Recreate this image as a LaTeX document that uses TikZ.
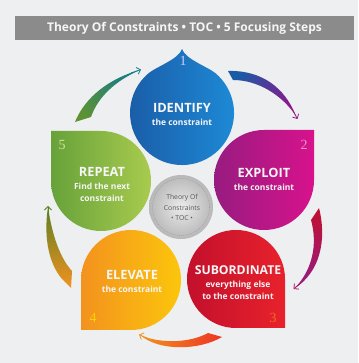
\documentclass[tikz,border=0pt]{standalone}
\usepackage{fontspec}
\setmainfont{Open Sans}
\usetikzlibrary{arrows.meta}
\definecolor{bgc}{HTML}{EDEFF1}
\definecolor{barc}{HTML}{8B8B8B}
\definecolor{blueL}{HTML}{1A5BA6}
\definecolor{blueR}{HTML}{1E8AD6}
\definecolor{purL}{HTML}{971C80}
\definecolor{purR}{HTML}{D8128C}
\definecolor{redL}{HTML}{C3102C}
\definecolor{redR}{HTML}{E8222C}
\definecolor{oraL}{HTML}{F3921E}
\definecolor{oraR}{HTML}{FCC60C}
\definecolor{grnL}{HTML}{67A23A}
\definecolor{grnR}{HTML}{A8CB4E}
\definecolor{txtc}{HTML}{F6F6F6}
\tikzset{
  x=1pt,y=1pt,
  headline/.style={text=txtc,font=\bfseries\fontsize{12.8}{12.8}\selectfont,inner sep=0pt,anchor=base},
  subline/.style={text=txtc,font=\bfseries\fontsize{8.5}{8.5}\selectfont,inner sep=0pt,anchor=base},
  numlabel/.style={font=\fontspec{Liberation Serif}\fontsize{14}{14}\selectfont,inner sep=0pt},
  centertext/.style={text=black!65,font=\fontsize{6.8}{6.8}\selectfont,inner sep=0pt,anchor=base},
  tiphead/.style={line width=0.8pt,-{Straight Barb[length=3.5pt,width=7pt]}}
}
\begin{document}
\begin{tikzpicture}
\useasboundingbox (0,0) rectangle (358,363);
\fill[bgc] (0,0) rectangle (358,363);
% title bar
\fill[barc] (15,323) rectangle (354,347);
\node[text=txtc,font=\bfseries\fontsize{12}{12}\selectfont,inner sep=0pt] (title) at (184.5,335) {Theory Of Constraints • TOC • 5 Focusing Steps};

% arrows
\shade[bottom color=grnL!90!black,top color=blueL!80!green,shading angle=-49]
  (75,241) .. controls (85,266) and (110,285) .. (140,293) .. controls (115,282) and (98,266) .. (91,246) -- cycle;
\coordinate (t1a) at (131,290); \coordinate (t1) at (141,293.5);
\draw[tiphead,blueL!80!green] (t1a) -- (t1);

\shade[bottom color=blueL,top color=purL!90!blue,shading angle=-123]
  (228,292) .. controls (262,293) and (285,275) .. (296,247) .. controls (282,268) and (258,283) .. (233,283) -- cycle;
\coordinate (t2a) at (292,254); \coordinate (t2) at (297.5,244);
\draw[tiphead,purL] (t2a) -- (t2);

\shade[bottom color=redL!90!purL,top color=purL,shading angle=165]
  (319,155) .. controls (327,123) and (320,91) .. (295,75) .. controls (312,93) and (318,118) .. (311,143) -- cycle;
\coordinate (t3a) at (302,81); \coordinate (t3) at (293.5,74);
\draw[tiphead,purL!80!red] (t3a) -- (t3);

\shade[bottom color=redR!80!orange,top color=oraL,shading angle=90]
  (208,30) .. controls (190,20) and (160,19) .. (140,28) .. controls (160,11) and (200,13) .. (222,26) -- cycle;
\coordinate (t4a) at (149,24); \coordinate (t4) at (139,28.5);
\draw[tiphead,oraL] (t4a) -- (t4);

\shade[bottom color=oraL,top color=grnL!70!black!90!yellow,shading angle=0]
  (48,156) .. controls (43,123) and (50,98) .. (62,84) -- (71,75) -- (72,92) .. controls (60,105) and (52,128) .. (48,156) -- cycle;
\coordinate (t5a) at (48,146); \coordinate (t5) at (48,157);
\draw[tiphead,grnL!70!black!90!yellow] (t5a) -- (t5);

% 1 blue drop
\shade[left color=blueL,right color=blueR]
  (148.6,289.8) arc[start angle=130,end angle=410,radius=52]
  .. controls (207.7,296.2) and (185,304) .. (182,314)
  .. controls (179,304) and (156.3,296.2) .. (148.6,289.8) -- cycle;
% 2 purple
\shade[left color=purL,right color=purR]
  (264,233) arc[start angle=90,end angle=360,radius=50] -- (314,233) -- cycle;
% 3 red
\shade[left color=redL,right color=redR]
  (285,84) arc[start angle=0,end angle=270,radius=49] -- (285,35) -- cycle;
% 4 orange
\shade[left color=oraL,right color=oraR]
  (131,33) arc[start angle=270,end angle=540,radius=50] -- (81,33) -- cycle;
% 5 green
\shade[left color=grnL,right color=grnR]
  (51,182) arc[start angle=180,end angle=450,radius=50] -- (51,232) -- cycle;

% center circle
\shade[inner color=white!92!black,outer color=black!28] (181,156) circle (32);
\draw[black!38,line width=0.5pt,dash pattern=on 1pt off 1pt] (181,156) circle (28.5);

% texts
\node[headline] (h1) at (182,250.5) {IDENTIFY};
\node[subline] (s1) at (182,237.5) {the constraint};
\node[headline] (h2) at (264,185.5) {EXPLOIT};
\node[subline] (s2) at (264,172.5) {the constraint};
\node[headline,font=\bfseries\fontsize{12.2}{12.2}\selectfont] (h3) at (238,88.5) {SUBORDINATE};
\node[subline] (s3a) at (238,75) {everything else};
\node[subline] (s3b) at (238,63) {to the constraint};
\node[headline] (h4) at (132,83.5) {ELEVATE};
\node[subline] (s4) at (132,70.5) {the constraint};
\node[headline] (h5) at (102,186.5) {REPEAT};
\node[subline] (s5a) at (102,173.5) {Find the next};
\node[subline] (s5b) at (102,161.5) {constraint};
\node[centertext] (c1) at (182,163) {Theory Of};
\node[centertext] (c2) at (182,152.5) {Constraints};
\node[centertext] (c3) at (182,142) {• TOC •};

% numbers
\node[numlabel,text=blue!20!white] (n1) at (183,302) {1};
\node[numlabel,text=purR!45!white] (n2) at (304,218) {2};
\node[numlabel,text=redR!55!oraR] (n3) at (273,45) {3};
\node[numlabel,text=oraR!80!yellow] (n4) at (93,45) {4};
\node[numlabel,text=grnR!55!white] (n5) at (62,218) {5};
\end{tikzpicture}
\end{document}
